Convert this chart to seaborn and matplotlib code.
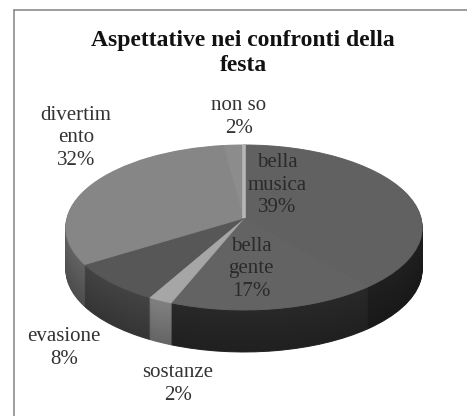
import matplotlib
matplotlib.use("Agg")
import matplotlib.pyplot as plt
from matplotlib.lines import Line2D
from matplotlib.colors import to_rgb
from matplotlib.transforms import Affine2D, Transform
import numpy as np
import seaborn as sns

# Survey results: expectations about the party
categories = ["bella\nmusica", "bella\ngente", "sostanze", "evasione", "divertim\nento", "non so"]
shares = [39, 17, 2, 8, 32, 2]
top_colors = ["#616161", "#636363", "#a6a6a6", "#575757", "#868686", "#8c8c8c"]
side_colors = ["#1c1c1c", "#242424", "#737373", "#3c3c3c", "#585858", "#6c6c6c"]
title_text = "Aspettative nei confronti della\nfesta"

W, H = 467, 416
sns.set_theme(style="white")
plt.rcParams["font.family"] = ["Liberation Serif", "DejaVu Serif"]


class Perspective(Transform):
    """Tilted view of the unit disc: the near edge comes out larger than the far edge."""
    input_dims = output_dims = 2

    def __init__(self, a, b, k):
        super().__init__()
        self.a, self.b, self.k = a, b, k

    def transform_non_affine(self, values):
        values = np.asarray(values, dtype=float)
        w = 1 + self.k * values[:, 1]
        return np.column_stack((self.a * values[:, 0] / w, self.b * values[:, 1] / w))


fig = plt.figure(figsize=(W / 100, H / 100), dpi=100, facecolor="white")
ax = fig.add_axes([0, 0, 1, 1])

apex_x, apex_y = 244, 218
tilt = Perspective(177, 81.4, 0.115)


def draw_pie(colors, drop):
    wedges, _ = ax.pie(shares, colors=colors, startangle=90, counterclock=False,
                       radius=1, frame=True)
    placed = tilt + Affine2D().translate(0, -drop) + ax.transData
    for wedge in wedges:
        wedge.set_transform(placed)
        # Outline each slice in its own fill so no seams show between neighbours
        wedge.set_edgecolor(wedge.get_facecolor())
        wedge.set_linewidth(0.7)
    return wedges


# The rim is a stack of darker pies, from the bottom face up to the top face
depth = 42
for d in range(depth, 0, -1):
    shade = 0.88 + 0.24 * (1 - d / depth)
    draw_pie([tuple(min(1, c * shade) for c in to_rgb(col)) for col in side_colors], d)
top_wedges = draw_pie(top_colors, 0)

# Light edge where the last slice meets the first one
edge = np.deg2rad(top_wedges[0].theta2)
ax.add_line(Line2D([0, np.cos(edge)], [0, np.sin(edge)], color="#b6b6b6", lw=2.6,
                   transform=tilt + ax.transData, solid_capstyle="butt"))

ax.set_aspect("auto")
ax.set_xlim(-apex_x, W - apex_x)
ax.set_ylim(apex_y - H, apex_y)
ax.axis("off")


def label(x, y, text, **kw):
    style = dict(ha="center", va="center", fontsize=15, color="#333333", linespacing=1.25)
    style.update(kw)
    fig.text(x / W, 1 - y / H, text, **style)


label(243, 53, title_text, fontsize=17, fontweight="bold", color="#111111", linespacing=1.3)

# Data labels around and over the pie
pct = [f"{v}%" for v in shares]
label(277, 185, f"{categories[0]}\n{pct[0]}", color="#2a2a2a")
label(251, 269, f"{categories[1]}\n{pct[1]}", color="#2a2a2a")
label(178, 384, f"{categories[2]}\n{pct[2]}")
label(64, 348, f"{categories[3]}\n{pct[3]}")
label(76, 138, f"{categories[4]}\n{pct[4]}")
label(239, 117, f"{categories[5]}\n{pct[5]}")

# Chart frame along the top and left edges
fig.add_artist(Line2D([14 / W, 14 / W], [0, 1 - 10 / H], transform=fig.transFigure,
                      color="#8c8c8c", lw=1.2))
fig.add_artist(Line2D([14 / W, 1], [1 - 10 / H, 1 - 10 / H], transform=fig.transFigure,
                      color="#8c8c8c", lw=1.2))

fig.savefig("out.png", dpi=100, facecolor="white")
